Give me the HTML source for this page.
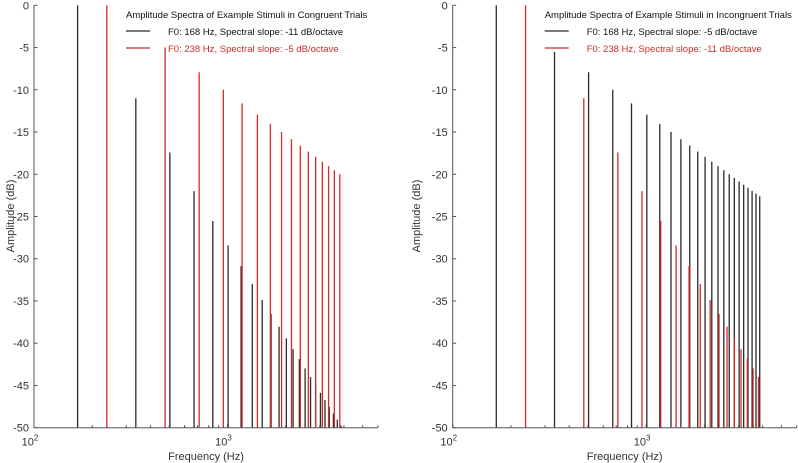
<!DOCTYPE html>
<html><head><meta charset="utf-8"><style>
html,body{margin:0;padding:0;background:#fff;}
svg{display:block;font-family:"Liberation Sans",sans-serif;}
</style></head><body>
<svg id="chart" width="798" height="463" viewBox="0 0 798 463"></svg>
<script>
const f0A = 168, f0B = 238;
const freqsA = [168,336,504,672,840,1008,1176,1344,1512,1680,1848,2016,2184,2352,2520,2688,2856,3024,3192,3360,3528,3696,3864];
const freqsB = [238,476,714,952,1190,1428,1666,1904,2142,2380,2618,2856,3094,3332,3570,3808];
// Congruent panel
const congA = [0,-11,-17.43,-22,-25.54,-28.43,-30.88,-33,-34.87,-36.54,-38.05,-39.43,-40.70,-41.88,-42.98,-44,-44.96,-45.87,-46.73,-47.54,-48.32,-49.05,-49.76];
const congB = [0,-5,-7.92,-10,-11.61,-12.92,-14.04,-15,-15.85,-16.61,-17.30,-17.92,-18.50,-19.04,-19.53,-20];
// Incongruent panel
const incA = [0,-5,-7.92,-10,-11.61,-12.92,-14.04,-15,-15.85,-16.61,-17.30,-17.92,-18.50,-19.04,-19.53,-20,-20.44,-20.85,-21.24,-21.61,-21.96,-22.30,-22.62];
const incB = [0,-11,-17.43,-22,-25.54,-28.43,-30.88,-33,-34.87,-36.54,-38.05,-39.43,-40.70,-41.88,-42.98,-44];
const yTicks = [0,-5,-10,-15,-20,-25,-30,-35,-40,-45,-50];
const xMinor = [200,300,400,500,600,700,800,900,2000,3000,4000,5000,6000];
const panels = [
  {x0:34, ytx:10, title:"Amplitude Spectra of Example Stimuli in Congruent Trials", a:congA, b:congB, la:"F0: 168 Hz, Spectral slope: -11 dB/octave", lb:"F0: 238 Hz, Spectral slope: -5 dB/octave", name:"congruent"},
  {x0:452.7, ytx:416, title:"Amplitude Spectra of Example Stimuli in Incongruent Trials", a:incA, b:incB, la:"F0: 168 Hz, Spectral slope: -5 dB/octave", lb:"F0: 238 Hz, Spectral slope: -11 dB/octave", name:"incongruent"}
];
const NS="http://www.w3.org/2000/svg";
const svg=document.getElementById('chart');
const W=344, yTop=5.3, yBot=427.7;
function mk(tag,attrs,parent,txt){const e=document.createElementNS(NS,tag);for(const k in attrs)e.setAttribute(k,attrs[k]);if(txt!==undefined)e.textContent=txt;parent.appendChild(e);return e;}
panels.forEach(p=>{
  const g=mk('g',{},svg);
  
  
  const xs=f=>p.x0+W*Math.log10(f/100)/Math.log10(60);
  const ys=v=>yTop+(yBot-yTop)*(0-v)/50;
  const drawStems=(freqs,amps,color,nm)=>{
    freqs.forEach((f,i)=>{
      const l=mk('line',{x1:xs(f),x2:xs(f),y1:ys(-50),y2:ys(amps[i]),stroke:color,'stroke-width':1.3},g);
      
      
    });
  };
  drawStems(freqsA,p.a,'#2a2a2a','f0-168');
  drawStems(freqsB,p.b,'#d42a2a','f0-238');
  const ax=mk('line',{x1:p.x0,x2:p.x0,y1:yTop,y2:yBot,stroke:'#555','stroke-width':1},g);
  
  
  const bx=mk('line',{x1:p.x0,x2:p.x0+W,y1:yBot,y2:yBot,stroke:'#555','stroke-width':1},g);
  
  
  yTicks.forEach(t=>{
    mk('line',{x1:p.x0,x2:p.x0+3.5,y1:ys(t),y2:ys(t),stroke:'#555','stroke-width':1},g);
    const tl=mk('text',{x:p.x0-5,y:ys(t)+4,'text-anchor':'end','font-size':11,fill:'#333'},g,String(t));
    
    
  });
  [100,1000].forEach(f=>{
    mk('line',{x1:xs(f),x2:xs(f),y1:yBot,y2:yBot-4,stroke:'#555','stroke-width':1},g);
    const t=mk('text',{x:xs(f)-4,y:yBot+18,'text-anchor':'middle','font-size':11,fill:'#333'},g);
    
    
    mk('tspan',{},t,'10');
    mk('tspan',{dy:-5,'font-size':8},t,f===100?'2':'3');
  });
  xMinor.forEach(f=>{mk('line',{x1:xs(f),x2:xs(f),y1:yBot,y2:yBot-2.5,stroke:'#555','stroke-width':1},g);});
  const xl=mk('text',{x:p.x0+W/2,y:460,'text-anchor':'middle','font-size':11,fill:'#333'},g,'Frequency (Hz)');
  
  
  const yl=mk('text',{x:0,y:0,'text-anchor':'middle','font-size':11,fill:'#333',transform:`translate(${p.ytx+4},216) rotate(-90)`},g,'Amplitude (dB)');
  
  
  const lx=p.x0+92;
  const tt=mk('text',{x:lx,y:18,'font-size':9.5,fill:'#111'},g,p.title);
  
  
  mk('rect',{x:lx,y:26,width:26,height:26,fill:'#fff'},g);
  mk('line',{x1:lx,x2:lx+24,y1:31,y2:31,stroke:'#2a2a2a','stroke-width':1.3},g);
  mk('line',{x1:lx,x2:lx+24,y1:48,y2:48,stroke:'#d42a2a','stroke-width':1.3},g);
  const e1=mk('text',{x:lx+42,y:35,'font-size':9.5,fill:'#111'},g,p.la);
  
  
  const e2=mk('text',{x:lx+42,y:52,'font-size':9.5,fill:'#d42a2a'},g,p.lb);
  
  
});
</script>
</body></html>
